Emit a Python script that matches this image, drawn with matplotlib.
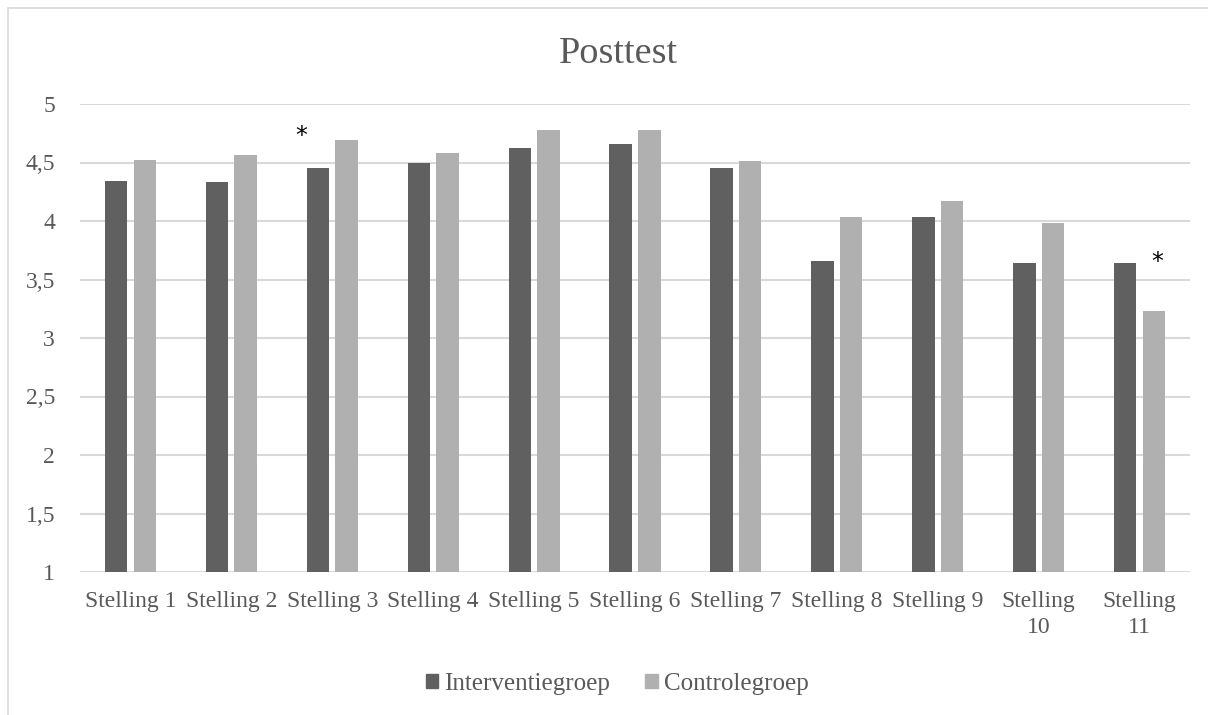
import numpy as np
import matplotlib
matplotlib.use('Agg')
import matplotlib.pyplot as plt
from matplotlib.patches import Rectangle, Patch

# Datos del gráfico

stellingen = ['Stelling 1', 'Stelling 2', 'Stelling 3', 'Stelling 4', 'Stelling 5',
              'Stelling 6', 'Stelling 7', 'Stelling 8', 'Stelling 9',
              'Stelling\n10', 'Stelling\n11']
interventie = [4.34, 4.33, 4.45, 4.50, 4.62, 4.66, 4.45, 3.66, 4.03, 3.64, 3.64]
controle = [4.52, 4.56, 4.69, 4.58, 4.78, 4.78, 4.51, 4.03, 4.17, 3.98, 3.23]
y_ticks = [1, 1.5, 2, 2.5, 3, 3.5, 4, 4.5, 5]
y_labels = ['1', '1,5', '2', '2,5', '3', '3,5', '4', '4,5', '5']

plt.rcParams['font.family'] = ['Liberation Serif', 'DejaVu Serif']

fig = plt.figure(figsize=(12.08, 7.15), dpi=100)
ax = fig.add_axes([80/1208, 1-572/715, 1110/1208, 468/715])

x = np.arange(len(stellingen))
w = 0.223
off = 0.142
kleur_int = '#606060'
kleur_con = '#b0b0b0'

ax.bar(x - off, interventie, w, color=kleur_int, zorder=3)
ax.bar(x + off, controle, w, color=kleur_con, zorder=3)

ax.set_xlim(-0.5, len(stellingen) - 0.5)
ax.set_ylim(1, 5)
ax.set_yticks(y_ticks)
ax.set_yticklabels(y_labels)
ax.set_xticks(x)
ax.set_xticklabels(stellingen, linespacing=1.3)
ax.tick_params(length=0, labelsize=17, colors='#595959')
ax.tick_params(axis='x', pad=14)
ax.tick_params(axis='y', pad=18)
ax.grid(axis='y', color='#d9d9d9', linewidth=1.5, zorder=0)
for s in ax.spines.values():
    s.set_visible(False)

# sterretjes (significant verschil)
ax.text(2 - 0.31, 4.73, '*', ha='center', va='center', fontsize=17, family='DejaVu Sans', color='black')
ax.text(10 + 0.18, 3.65, '*', ha='center', va='center', fontsize=17, family='DejaVu Sans', color='black')

fig.text(0.512, 1 - 54/715, 'Posttest', ha='center', va='center', fontsize=27.5, color='#595959')

handles = [Patch(color=kleur_int, label='Interventiegroep'),
           Patch(color=kleur_con, label='Controlegroep')]
fig.legend(handles=handles, loc='center', bbox_to_anchor=(0.511, 1 - 684/715), ncol=2,
           frameon=False, fontsize=18, labelcolor='#595959', handlelength=0.5,
           handleheight=0.5, handletextpad=0.25, columnspacing=1.4)

# rand rond de grafiek
fig.patches.append(Rectangle((8/1208, -0.1), 1.2, 1.1 - 8/715, transform=fig.transFigure,
                             fill=False, edgecolor='#d9d9d9', linewidth=1.2))

fig.savefig('out.png', dpi=100)
